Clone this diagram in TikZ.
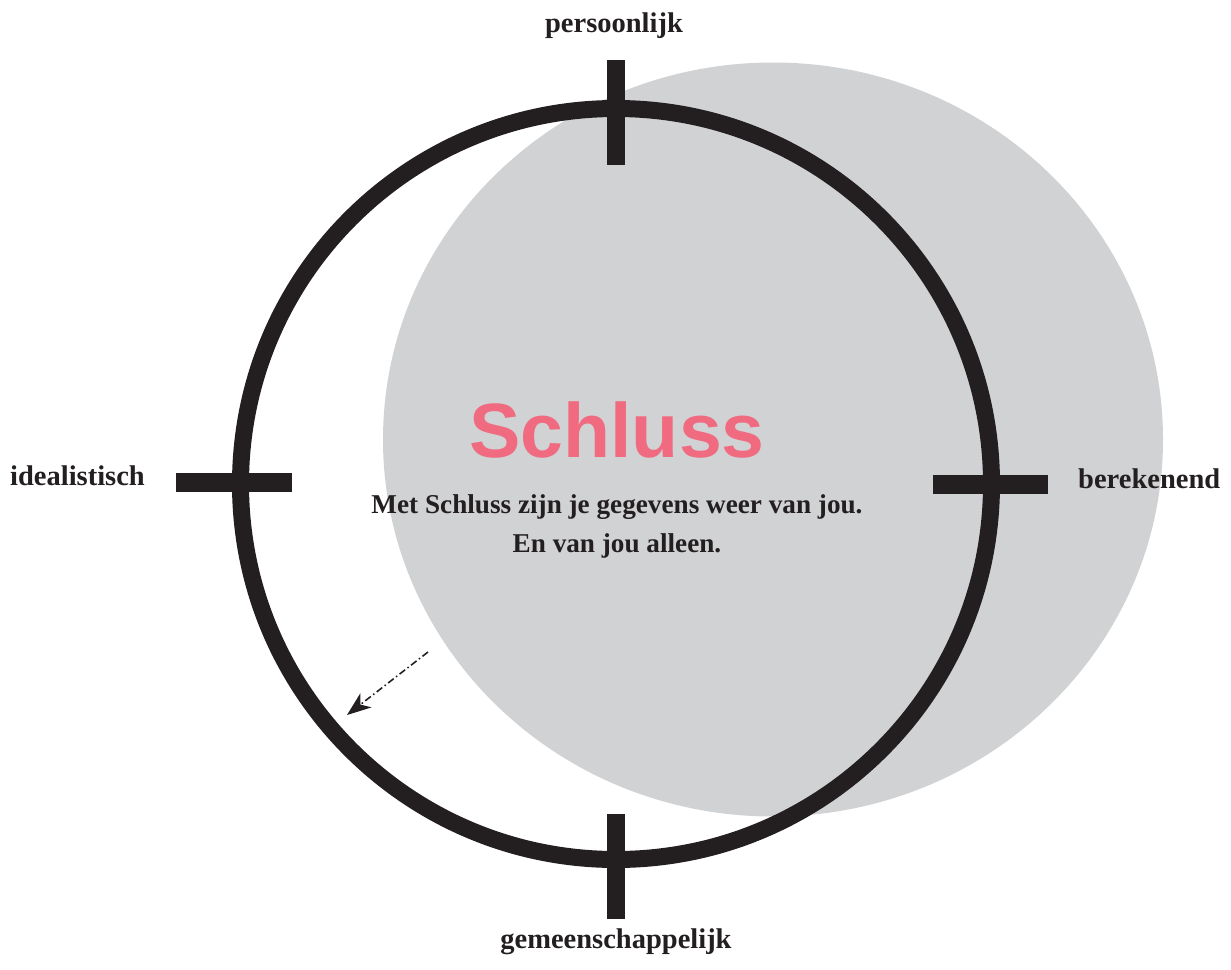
\documentclass[tikz,border=0pt]{standalone}
\usepackage{fontspec}
\setmainfont{Liberation Serif}
\newfontfamily\titlefont{Liberation Sans}
\usetikzlibrary{arrows.meta}
\definecolor{ringblack}{HTML}{231F20}
\definecolor{softgrey}{HTML}{D1D2D4}
\definecolor{schlusspink}{HTML}{F06A80}
\tikzset{
  label/.style={font=\bfseries\fontsize{28.5}{32}\selectfont, text=ringblack, inner sep=0pt, anchor=base},
  bodytext/.style={font=\bfseries\fontsize{27.2}{32}\selectfont, text=ringblack, inner sep=0pt, anchor=base},
  tick/.style={fill=ringblack, draw=none},
  ring/.style={draw=ringblack, line width=17pt},
}
\begin{document}
\begin{tikzpicture}[x=1pt,y=-1pt]
\useasboundingbox (0,0) rectangle (1231,969);
% grey disc
\fill[softgrey] (773,439.5) ellipse [x radius=390, y radius=377];
% ring
\draw[ring] (616,484) circle [radius=375.5];
% ticks
\fill[tick] (607,60) rectangle (625,165);
\fill[tick] (607,814) rectangle (625,919);
\fill[tick] (176,472.5) rectangle (292,491.5);
\fill[tick] (933,474.5) rectangle (1048,493.5);
% labels
\node[label] (top) at (614,32) {persoonlijk};
\node[label] (bottom) at (616,948) {gemeenschappelijk};
\node[label, anchor=base west] (left) at (10,485) {idealistisch};
\node[label, anchor=base west] (right) at (1078,488) {berekenend};
% title
\node[inner sep=0pt, anchor=base, text=schlusspink, font=\titlefont\bfseries\fontsize{77}{82}\selectfont] (title) at (617,457) {Schluss};
\node[bodytext] (line1) at (617,513) {Met Schluss zijn je gegevens weer van jou.};
\node[bodytext] (line2) at (617,552) {En van jou alleen.};
% arrow
\coordinate (a0) at (428,652);
\coordinate (a1) at (347,715);
\draw[ringblack, line width=1.6pt, dash pattern=on 7pt off 3pt on 1.5pt off 3pt, -{Stealth[length=24pt,width=18pt,inset=7pt]}] (a0) -- (a1);
\end{tikzpicture}
\end{document}
